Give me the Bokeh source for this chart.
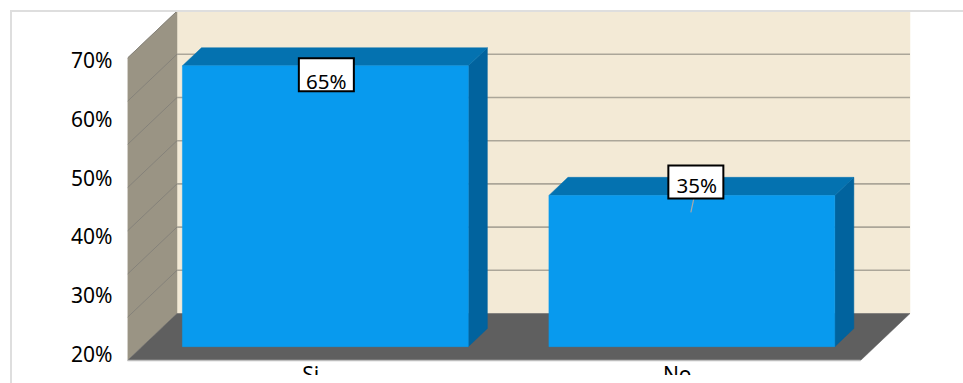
from bokeh.core.properties import value
from bokeh.embed import file_html
from bokeh.layouts import column
from bokeh.models import Div, FixedTicker, LinearAxis, Range1d
from bokeh.plotting import figure
from bokeh.resources import INLINE

# Survey results
categories = ["Si", "No"]
shares = [65, 35]
bar_labels = ["65%", "35%"]
wall_levels = [10, 20, 30, 40, 50, 60]
side_levels = [10, 20, 30, 40, 50, 60, 70]
tick_values = [20, 30, 40, 50, 60, 70]
tick_labels = ["20%", "30%", "40%", "50%", "60%", "70%"]

FONT = "Noto Sans"
FONT_SIZE = "21px"
BAR_FONT_SIZE = "20.5px"

# Pixel scale of the front plane and the oblique projection of the 3D box
WIDTH, HEIGHT = 963, 375
LEFT, BASE = 127, 360
PX_PER_CAT, PX_PER_PCT = 366.5, 4.32
DEPTH_X = 49.5 / PX_PER_CAT
DEPTH_Y = 47 / PX_PER_PCT
BAR_WIDTH = 0.78
BAR_NEAR, BAR_FAR = 0.295, 0.68
AXIS_TOP = 70
X0, X1 = -0.5, 1.5


def proj(x, y, depth=0.0):
    return x + depth * DEPTH_X, y + depth * DEPTH_Y


def quad(corners):
    pts = [proj(*c) for c in corners]
    return [q[0] for q in pts], [q[1] for q in pts]


def px(dx):
    return dx / PX_PER_CAT


def py(dy):
    return dy / PX_PER_PCT


p = figure(
    width=WIDTH, height=HEIGHT, frame_width=WIDTH - LEFT, frame_height=BASE,
    output_backend="svg", toolbar_location=None,
    x_range=Range1d(X0, X0 + (WIDTH - LEFT) / PX_PER_CAT),
    y_range=Range1d(0, BASE / PX_PER_PCT),
    x_axis_type=None, y_axis_type=None,
    min_border_left=LEFT, min_border_right=0, min_border_top=0, min_border_bottom=HEIGHT - BASE,
    background_fill_color="white", border_fill_color="white", outline_line_color=None,
)
p.grid.visible = False


def fill(corners, color):
    xs, ys = quad(corners)
    p.patch(xs, ys, fill_color=color, line_color=color, line_width=0.5)


# Walls and floor
fill([(X0, 0, 1), (X1, 0, 1), (X1, AXIS_TOP, 1), (X0, AXIS_TOP, 1)], "#F3EAD6")
fill([(X0, 0, 0), (X0, 0, 1), (X0, AXIS_TOP, 1), (X0, AXIS_TOP, 0)], "#9A9484")
fill([(X0, 0, 0), (X1, 0, 0), (X1, 0, 1), (X0, 0, 1)], "#5F5F5F")

# Gridlines along the back wall and down the left wall
for level in wall_levels:
    back_x, back_y = quad([(X0, level, 1), (X1, level, 1)])
    p.line(back_x, back_y, line_color="#ABA699", line_width=1.6)
for level in side_levels:
    side_x, side_y = quad([(X0, level, 0), (X0, level, 1)])
    p.line(side_x, side_y, line_color="#85827A", line_width=1)

# Bars as three visible faces
for i, share in enumerate(shares):
    a, b = i - BAR_WIDTH / 2, i + BAR_WIDTH / 2
    fill([(b, 0, BAR_NEAR), (b, 0, BAR_FAR), (b, share, BAR_FAR), (b, share, BAR_NEAR)], "#01639E")
    fill([(a, share, BAR_NEAR), (b, share, BAR_NEAR), (b, share, BAR_FAR), (a, share, BAR_FAR)], "#0472B0")
    fill([(a, 0, BAR_NEAR), (b, 0, BAR_NEAR), (b, share, BAR_NEAR), (a, share, BAR_NEAR)], "#089AEE")

# Value labels: boxed text, offset in pixels from the middle of each bar's front top edge
box_offsets = [(1, -9), (4, 13.5)]
text_offsets = [(1, -15), (5, 10)]
for i, share in enumerate(shares):
    cx, cy = proj(i, share, BAR_NEAR)
    if i == 1:
        p.line([cx + px(2), cx - px(1)], [cy + py(-3), cy + py(-17)], line_color="#A9A9A9", line_width=1.2)
    bx, by = box_offsets[i]
    p.rect([cx + px(bx)], [cy + py(by)], width=55, height=33, width_units="screen", height_units="screen",
           fill_color="white", line_color="black", line_width=2, line_join="miter")
    tx, ty = text_offsets[i]
    p.text([cx + px(tx)], [cy + py(ty)], text=[bar_labels[i]], text_font=value(FONT),
           text_font_size=BAR_FONT_SIZE, text_color="black", text_align="center", text_baseline="middle")

# Category axis on the front edge of the floor
x_axis = LinearAxis(
    ticker=FixedTicker(ticks=list(range(len(categories)))),
    major_label_overrides={i: c for i, c in enumerate(categories)},
    bounds=(X0, X1),
    axis_line_color="#BDBDBD", axis_line_width=1.5,
    major_tick_line_color=None, minor_tick_line_color=None,
    major_label_text_font=FONT, major_label_text_font_size=FONT_SIZE,
    major_label_text_color="black", major_label_standoff=-7,
)
p.add_layout(x_axis, "below")

# Percentage axis, spaced on a scale of its own
LABEL_PX_70, LABEL_PX_PER_PCT = 59.5, 5.88
p.extra_y_ranges["labels"] = Range1d(
    70 - (BASE - LABEL_PX_70) / LABEL_PX_PER_PCT,
    70 + LABEL_PX_70 / LABEL_PX_PER_PCT,
)
y_axis = LinearAxis(
    y_range_name="labels",
    ticker=FixedTicker(ticks=tick_values),
    major_label_overrides=dict(zip(tick_values, tick_labels)),
    axis_line_color=None, major_tick_line_color=None, minor_tick_line_color=None,
    major_label_text_font=FONT, major_label_text_font_size=FONT_SIZE,
    major_label_text_color="black", major_label_standoff=9,
)
p.add_layout(y_axis, "left")

# Chart area border along the top and the left, and the page's bottom strip below the axis labels
border = Div(
    text=(
        '<div style="position:fixed;left:12px;top:375px;width:951px;height:8px;background:#FFFFFF;z-index:5"></div>'
        '<div style="position:fixed;left:10px;top:10px;width:953px;height:2px;background:#DEDEDE;z-index:5"></div>'
        '<div style="position:fixed;left:10px;top:10px;width:2px;height:373px;background:#DEDEDE;z-index:5"></div>'
    ),
    width=0, height=0, margin=0,
)

p.margin = 0
page = column(p, border, spacing=0, margin=0)
open("out.html", "w").write(file_html(page, INLINE))
